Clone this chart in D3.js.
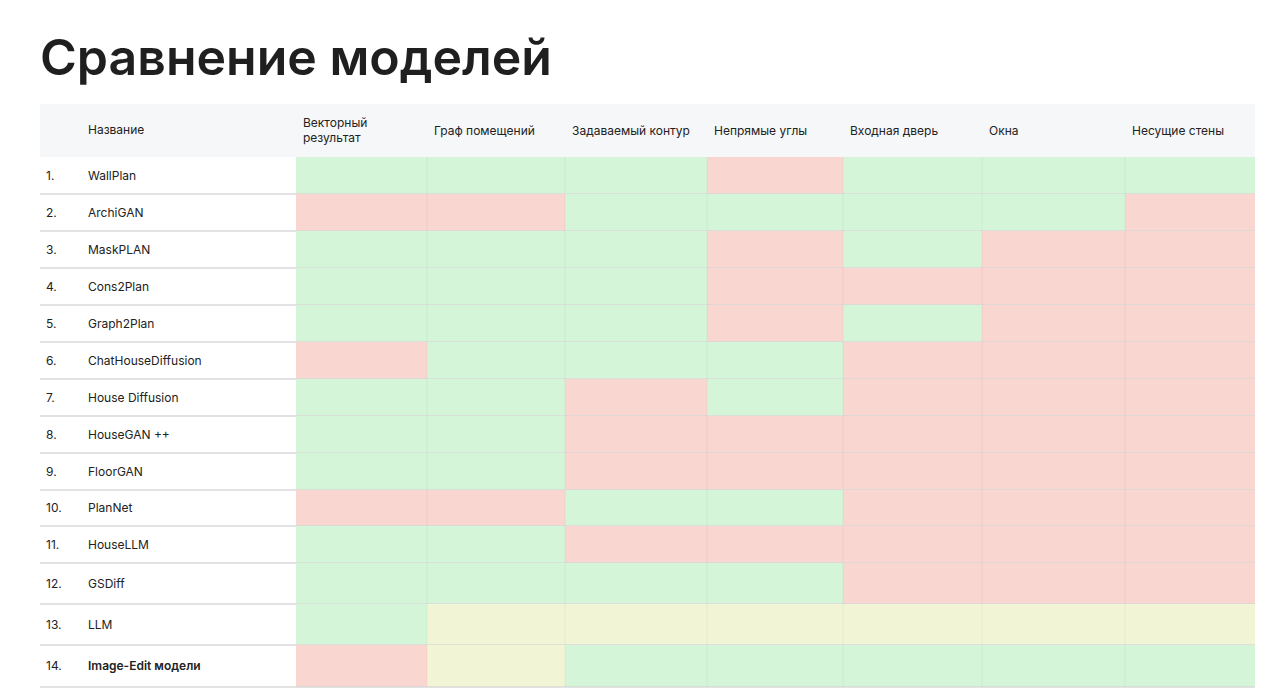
<!DOCTYPE html>
<html lang="ru">
<head>
<meta charset="UTF-8">
<script src="https://d3js.org/d3.v7.min.js"></script>
<style>
  body { margin: 0; background: #fff; font-family: Inter, "Noto Sans", sans-serif; }
</style>
</head>
<body>
<svg id="chart" width="1280" height="697"></svg>
<script>
  const columns = ["Векторный|результат", "Граф помещений", "Задаваемый контур", "Непрямые углы", "Входная дверь", "Окна", "Несущие  стены"];
  const models = ["WallPlan", "ArchiGAN", "MaskPLAN", "Cons2Plan", "Graph2Plan", "ChatHouseDiffusion", "House  Diffusion",
    "HouseGAN  ++", "FloorGAN", "PlanNet", "HouseLLM", "GSDiff", "LLM", "Image-Edit модели"];
  // G = да, R = нет, Y = частично
  const cells = [
    "GGGRGGG", "RRGGGGR", "GGGRGRR", "GGGRRRR", "GGGRGRR", "RGGGRRR", "GGRGRRR",
    "GGRRRRR", "GGRRRRR", "RRGGRRR", "GGRRRRR", "GGGGRRR", "GYYYYYY", "RYGGGGG"
  ];
  const rowHeights = [37, 37, 37, 37, 37, 37, 37, 37, 37, 36, 37, 41, 41, 42];
  const colEdges = [296, 427, 565, 707, 843, 982, 1125, 1255];

  const color = d3.scaleOrdinal().domain(["G", "R", "Y"]).range(["#d5f5d8", "#fad6d0", "#f2f5d5"]);

  const svg = d3.select("#chart");
  svg.append("text").attr("x", 40).attr("y", 75)
    .attr("font-size", 50).attr("font-weight", 600).attr("fill", "#1f1f1f")
    .text("Сравнение моделей");

  const tableTop = 104, headH = 53;
  svg.append("rect").attr("x", 40).attr("y", tableTop).attr("width", 1215).attr("height", headH).attr("fill", "#f6f7f9");
  svg.append("text").attr("x", 88).attr("y", tableTop + 30).attr("font-size", 12).attr("fill", "#222").text("Название");
  columns.forEach((c, i) => {
    const lines = c.split("|");
    const t = svg.append("text").attr("x", colEdges[i] + 7).attr("font-size", 12).attr("fill", "#222");
    lines.forEach((l, j) => t.append("tspan").attr("x", colEdges[i] + 7)
      .attr("y", tableTop + (lines.length > 1 ? 23 : 31) + j * 15).text(l));
  });

  let y = tableTop + headH;
  const rowY = rowHeights.map(h => { const v = y; y += h; return v; });

  models.forEach((m, r) => {
    const y0 = rowY[r], h = rowHeights[r];
    cells[r].split("").forEach((v, c) => {
      svg.append("rect").attr("x", colEdges[c]).attr("y", y0)
        .attr("width", colEdges[c + 1] - colEdges[c]).attr("height", h).attr("fill", color(v));
    });
    svg.append("text").attr("x", 46).attr("y", y0 + h / 2 + 4).attr("font-size", 12).attr("fill", "#222").text((r + 1) + ".");
    svg.append("text").attr("x", 88).attr("y", y0 + h / 2 + 4).attr("font-size", 12).attr("fill", "#222")
      .attr("font-weight", r === 13 ? 600 : 400).text(m);
    svg.append("line").attr("x1", 40).attr("x2", 1255).attr("y1", y0 + h).attr("y2", y0 + h)
      .attr("stroke", "#d8d8d8").attr("stroke-width", 1.5);
  });

  // faint column dividers
  colEdges.slice(1, -1).forEach(x => {
    svg.append("line").attr("x1", x).attr("x2", x).attr("y1", tableTop + headH).attr("y2", y)
      .attr("stroke", "#000").attr("stroke-opacity", 0.04);
  });
</script>
</body>
</html>
